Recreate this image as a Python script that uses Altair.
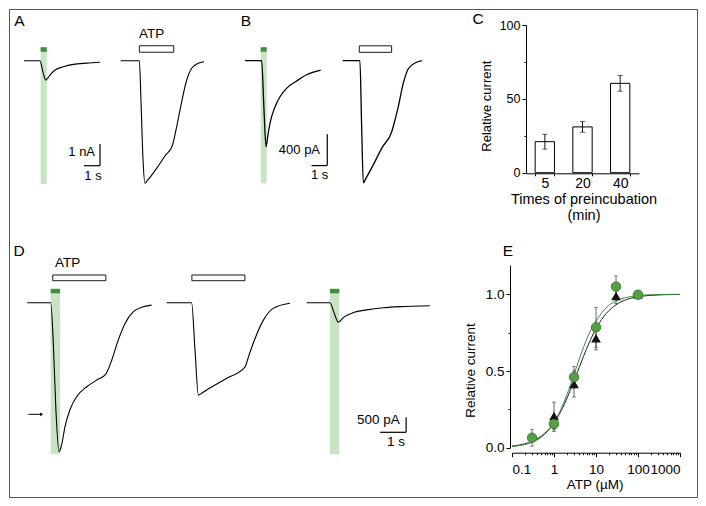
import altair as alt
import pandas as pd

FONT = "Liberation Sans"
PAD = 1
OFF = 8 + PAD            # page margin + chart padding
W, H = 690 - 2 * PAD, 490 - 2 * PAD

# ---------------- data ----------------
# Panel A: currents (nA) vs time (s)
A_T1 = [0.00, 1.00, 1.13, 1.25, 1.36, 1.44, 1.63, 1.94, 2.46, 3.08, 3.92, 4.75]
A_I1 = [0.00, 0.00, -0.34, -0.70, -0.89, -0.84, -0.66, -0.43, -0.28, -0.17, -0.11, -0.07]
A_T2 = [6.04, 7.21, 7.31, 7.44, 7.56, 7.69, 8.29, 8.81, 9.27, 9.50, 9.75, 10.17, 10.48, 10.89, 11.25]
A_I2 = [0.00, 0.00, -1.81, -4.58, -5.65, -5.54, -4.96, -4.39, -3.92, -3.19, -2.27, -0.89, -0.35, -0.12, -0.05]
A_LIGHT = [(1.04, 1.42)]
A_ATP = [(7.21, 9.36)]

# Panel B
B_T1 = [0.00, 1.06, 1.21, 1.34, 1.46, 1.59, 1.91, 2.23, 2.66, 3.29, 3.93, 4.82]
B_I1 = [0.00, 0.00, -0.63, -1.10, -0.95, -0.80, -0.59, -0.46, -0.35, -0.26, -0.18, -0.12]
B_T2 = [6.22, 7.32, 7.42, 7.54, 7.71, 8.17, 8.73, 9.34, 9.55, 9.76, 10.08, 10.41, 10.83, 11.26]
B_I2 = [0.00, 0.00, -0.76, -1.56, -1.50, -1.33, -1.11, -0.91, -0.76, -0.59, -0.29, -0.10, -0.03, 0.00]
B_LIGHT = [(1.00, 1.38)]
B_ATP = [(7.28, 9.34)]

# Panel C
C_CAT = ["5", "20", "40"]
C_MEAN = [21.0, 31.0, 60.5]
C_ERR = [5.0, 3.6, 5.3]

# Panel D
D_T1 = [0.00, 0.90, 1.00, 1.10, 1.22, 1.32, 1.45, 1.64, 1.90, 2.29, 2.67, 3.02, 3.25, 3.50, 3.76, 4.08, 4.40, 4.78]
D_I1 = [0.00, 0.00, -1.34, -3.57, -4.97, -4.74, -4.13, -3.57, -3.13, -2.80, -2.58, -2.38, -1.91, -1.24, -0.69, -0.30, -0.15, -0.08]
D_T2 = [5.36, 6.32, 6.45, 6.58, 6.72, 6.90, 7.67, 8.37, 8.53, 8.69, 9.08, 9.46, 10.10]
D_I2 = [0.00, 0.00, -1.58, -3.08, -3.01, -2.91, -2.52, -2.15, -1.74, -1.35, -0.58, -0.19, -0.02]
D_T3 = [10.75, 11.64, 11.80, 11.96, 12.16, 12.54, 13.06, 13.69, 14.33, 15.48]
D_I3 = [0.00, 0.00, -0.34, -0.65, -0.49, -0.33, -0.24, -0.17, -0.13, -0.10]
D_LIGHT = [(0.90, 1.26), (11.64, 12.00)]
D_ATP = [(0.98, 3.02), (6.33, 8.37)]

# Panel E: dose-response
E_GX = [0.3, 1, 3, 10, 30, 100]
E_GY = [0.065, 0.155, 0.46, 0.785, 1.05, 0.997]
E_GE = [0.055, 0.05, 0.07, 0.13, 0.07, 0.02]
E_BX = [1, 3, 10, 30, 100]
E_BY = [0.207, 0.415, 0.713, 0.989, 1.0]
E_BE = [0.09, 0.085, 0.076, 0.05, 0.02]
E_FX = [0.1, 0.2, 0.3, 0.5, 0.7, 1, 1.5, 2, 3, 4, 5, 7, 10, 15, 20, 30, 50, 100, 200, 500, 1000]
E_FG = [0.008, 0.020, 0.035, 0.069, 0.106, 0.164, 0.257, 0.341, 0.478, 0.578, 0.651, 0.750, 0.825,
        0.893, 0.927, 0.957, 0.978, 0.992, 0.997, 0.999, 1.0]
E_FB = [0.011, 0.025, 0.042, 0.076, 0.111, 0.163, 0.244, 0.317, 0.435, 0.524, 0.593, 0.689, 0.776,
        0.852, 0.892, 0.932, 0.963, 0.984, 0.993, 0.998, 0.999]
E_XTICKS = [0.1, 0.2, 0.3, 0.4, 0.5, 0.6, 0.7, 0.8, 0.9, 1, 2, 3, 4, 5, 6, 7, 8, 9,
            10, 20, 30, 40, 50, 60, 70, 80, 90, 100, 200, 300, 400, 500, 600, 700, 800, 900, 1000]

ONE = pd.DataFrame({"k": [0]})
LIGHT_GREEN = "#c8e4c3"
DARK_GREEN = "#3f8f3c"


def lscale(img0, ppu, lo, hi, vertical=False):
    if vertical:
        rng = [img0 - OFF - lo * ppu, img0 - OFF - hi * ppu]
    else:
        rng = [img0 - OFF + lo * ppu, img0 - OFF + hi * ppu]
    return alt.Scale(domain=[lo, hi], range=rng, nice=False, zero=False)


def trace_panel(traces, light, atp, sx, sy, light_y, dark_y, box_y, bar, texts, lw=1.1, extra=None):
    X = lambda f: alt.X(f, type="quantitative", scale=sx, axis=None)
    Y = lambda f: alt.Y(f, type="quantitative", scale=sy, axis=None)
    XD = lambda v: alt.XDatum(v, type="quantitative", scale=sx, axis=None)
    YD = lambda v: alt.YDatum(v, type="quantitative", scale=sy, axis=None)

    rows = []
    for k, (T, I) in enumerate(traces):
        rows += [{"t": t, "i": i, "trace": k} for t, i in zip(T, I)]
    ldf = pd.DataFrame({"s": [a for a, b in light], "e": [b for a, b in light]})
    adf = pd.DataFrame({"s": [a for a, b in atp], "e": [b for a, b in atp]})

    layers = [
        alt.Chart(ldf).mark_rect(color=LIGHT_GREEN).encode(
            x=X("s"), x2=alt.X2("e"), y=YD(light_y[0]), y2=alt.Y2Datum(light_y[1])),
        alt.Chart(ldf).mark_rect(color=DARK_GREEN).encode(
            x=X("s"), x2=alt.X2("e"), y=YD(dark_y[0]), y2=alt.Y2Datum(dark_y[1])),
        alt.Chart(pd.DataFrame(rows)).mark_line(color="black", strokeWidth=lw, interpolate="monotone").encode(
            x=X("t"), y=Y("i"), detail="trace:N"),
        alt.Chart(adf).mark_rect(fill="white", stroke="black", strokeWidth=0.9).encode(
            x=X("s"), x2=alt.X2("e"), y=YD(box_y[0]), y2=alt.Y2Datum(box_y[1])),
    ]
    ct, ci, dt, di = bar
    layers += [
        alt.Chart(ONE).mark_rule(color="black", strokeWidth=1.2).encode(
            x=XD(ct), y=YD(ci), y2=alt.Y2Datum(ci + di)),
        alt.Chart(ONE).mark_rule(color="black", strokeWidth=1.2).encode(
            x=XD(ct - dt), x2=alt.X2Datum(ct), y=YD(ci)),
    ]
    for txt, t, i, size, align in texts:
        layers.append(alt.Chart(ONE).mark_text(text=txt, fontSize=size, align=align, baseline="middle",
                                               font=FONT, color="black").encode(x=XD(t), y=YD(i)))
    if extra:
        layers += extra(XD, YD)
    return alt.layer(*layers)


# ---------------- panel A ----------------
sxA = lscale(24, 16, -0.5, 12)
syA = lscale(60.7, 21.7, -6.5, 2.5, vertical=True)
pA = trace_panel([(A_T1, A_I1), (A_T2, A_I2)], A_LIGHT, A_ATP, sxA, syA,
                 (0.62, -5.68), (0.62, 0.41), (0.69, 0.39), (4.75, -4.84, 1, 1),
                 [("A", -0.28, 1.83, 15.5, "center"), ("ATP", 7.19, 1.21, 13.5, "left"),
                  ("1 nA", 4.44, -4.19, 13, "right"), ("1 s", 4.31, -5.31, 13, "center")])

# ---------------- panel B ----------------
sxB = lscale(245, 15.7, -0.5, 15.5)
syB = lscale(60.7, 78.3, -1.7, 0.6, vertical=True)
pB = trace_panel([(B_T1, B_I1), (B_T2, B_I2)], B_LIGHT, B_ATP, sxB, syB,
                 (0.171, -1.566), (0.171, 0.115), (0.19, 0.107), (5.24, -1.34, 1, 0.4),
                 [("B", 0.06, 0.51, 15.5, "center"), ("C", 14.84, 0.53, 15.5, "center"),
                  ("400 pA", 4.78, -1.14, 13, "right"), ("1 s", 4.75, -1.46, 13, "center")],
                 lw=1.3)

# ---------------- panel C ----------------
cdf = pd.DataFrame({"cat": C_CAT, "mean": C_MEAN,
                    "lo": [m - e for m, e in zip(C_MEAN, C_ERR)],
                    "hi": [m + e for m, e in zip(C_MEAN, C_ERR)]})
sxC = alt.Scale(domain=C_CAT, range=[526 - OFF, 639 - OFF], paddingInner=0.487, paddingOuter=0.2435)
syC = alt.Scale(domain=[0, 100], range=[172.7 - OFF, 25 - OFF], nice=False)
xAxC = alt.Axis(orient="bottom", offset=(173.3 - OFF) - H, tickBand="extent", tickSize=2.5,
                labelAngle=0, labelFontSize=14, labelPadding=0.5,
                title=["Times of preincubation", "(min)"], titleFontSize=14.5,
                titleX=583.5 - OFF, titleY=19.5, titleBaseline="top", titleAlign="center",
                titleLineHeight=15.5)
yAxC = alt.Axis(orient="left", offset=-(526 - OFF), values=[0, 25, 50, 75, 100],
                labelExpr="datum.value == 25 || datum.value == 75 ? '' : datum.label",
                tickSize={"condition": {"test": "datum.value == 25 || datum.value == 75", "value": 2}, "value": 4},
                labelFontSize=12.5, labelPadding=2, title="Relative current", titleFontSize=13,
                titleX=486.7 - 526, titleY=105.7 - OFF, titleAngle=270, titleAlign="center",
                titleBaseline="middle")
XC = alt.X("cat:N", sort=C_CAT, scale=sxC, axis=xAxC)
pC = alt.layer(
    alt.Chart(cdf).mark_bar(fill="white", stroke="black", strokeWidth=1).encode(
        x=XC, y=alt.Y("mean:Q", scale=syC, axis=yAxC), y2=alt.Y2Datum(0)),
    alt.Chart(cdf).mark_rule(color="black", strokeWidth=0.9).encode(
        x=XC, y=alt.Y("lo:Q", scale=syC, axis=yAxC), y2=alt.Y2("hi")),
    alt.Chart(cdf).mark_tick(orient="horizontal", size=5, thickness=0.9, color="black").encode(
        x=XC, y=alt.Y("lo:Q", scale=syC, axis=yAxC)),
    alt.Chart(cdf).mark_tick(orient="horizontal", size=5, thickness=0.9, color="black").encode(
        x=XC, y=alt.Y("hi:Q", scale=syC, axis=yAxC)),
)

# ---------------- panel D ----------------
sxD = lscale(27.3, 26, -0.5, 19)
syD = lscale(302.7, 30, -5.3, 1.5, vertical=True)


def arrow(XD, YD):
    return [
        alt.Chart(ONE).mark_rule(color="black", strokeWidth=1).encode(
            x=XD(0.04), x2=alt.X2Datum(0.52), y=YD(-3.72)),
        alt.Chart(ONE).mark_point(shape="triangle-right", filled=True, size=14, color="black", opacity=1).encode(
            x=XD(0.55), y=YD(-3.72)),
    ]


pD = trace_panel([(D_T1, D_I1), (D_T2, D_I2), (D_T3, D_I3)], D_LIGHT, D_ATP, sxD, syD,
                 (0.48, -5.05), (0.457, 0.313), (0.923, 0.733), (14.57, -4.32, 1, 0.5),
                 [("D", -0.32, 1.72, 15.5, "center"), ("E", 18.49, 1.72, 15.5, "center"),
                  ("ATP", 1.07, 1.31, 13.5, "left"),
                  ("500 pA", 14.33, -3.91, 13.5, "right"), ("1 s", 14.18, -4.63, 13.5, "center")],
                 extra=arrow)

# ---------------- panel E ----------------
sxE = alt.Scale(type="log", domain=[0.1, 1000], range=[512 - OFF, 680 - OFF])
syE = alt.Scale(domain=[0, 1.19], range=[447.7 - OFF, 447.7 - OFF - 1.19 * 153.4], nice=False, zero=False)
DEC = "indexof([0.1, 1, 10, 100, 1000], datum.value) >= 0"
xAxE = alt.Axis(orient="bottom", offset=(452.7 - OFF) - H, values=E_XTICKS,
                labelExpr=f"{DEC} ? format(datum.value, '.1~f') : ''",
                tickSize={"condition": {"test": DEC, "value": 4}, "value": 2},
                labelFontSize=13.5, labelPadding=5.5, title="ATP (µM)", titleFontSize=13.5,
                titleX=594.7 - OFF, titleY=31.6, titleBaseline="middle", titleAlign="center")
yAxE = alt.Axis(orient="left", offset=-(510 - OFF), values=[0, 0.25, 0.5, 0.75, 1.0], format=".1f",
                labelExpr="datum.value == 0.25 || datum.value == 0.75 ? '' : datum.label",
                tickSize={"condition": {"test": "datum.value == 0.25 || datum.value == 0.75", "value": 2}, "value": 4},
                labelFontSize=13.5, labelPadding=2, title="Relative current", titleFontSize=13.5,
                titleX=470 - 510, titleY=370 - OFF, titleAngle=270, titleAlign="center",
                titleBaseline="middle")
XE = lambda f: alt.X(f, type="quantitative", scale=sxE, axis=xAxE)
YE = lambda f: alt.Y(f, type="quantitative", scale=syE, axis=yAxE)

fit = pd.DataFrame({"x": E_FX * 2, "y": E_FB + E_FG, "s": ["b"] * len(E_FX) + ["g"] * len(E_FX)})
gdf = pd.DataFrame({"x": E_GX, "y": E_GY, "lo": [y - e for y, e in zip(E_GY, E_GE)],
                    "hi": [y + e for y, e in zip(E_GY, E_GE)]})
bdf = pd.DataFrame({"x": E_BX, "y": E_BY, "lo": [y - e for y, e in zip(E_BY, E_BE)],
                    "hi": [y + e for y, e in zip(E_BY, E_BE)]})


def errbars(df, color):
    return [
        alt.Chart(df).mark_rule(color=color, strokeWidth=0.8).encode(x=XE("x"), y=YE("lo"), y2=alt.Y2("hi")),
        alt.Chart(df).mark_tick(orient="horizontal", size=4, thickness=0.8, color=color).encode(x=XE("x"), y=YE("lo")),
        alt.Chart(df).mark_tick(orient="horizontal", size=4, thickness=0.8, color=color).encode(x=XE("x"), y=YE("hi")),
    ]


pE = alt.layer(
    alt.Chart(fit).transform_filter("datum.s == 'b'").mark_line(color="#222222", strokeWidth=1, interpolate="monotone").encode(
        x=XE("x"), y=YE("y")),
    alt.Chart(fit).transform_filter("datum.s == 'g'").mark_line(color="#3a8a35", strokeWidth=1, interpolate="monotone").encode(
        x=XE("x"), y=YE("y")),
    *errbars(bdf, "#333333"),
    *errbars(gdf, "#444444"),
    alt.Chart(bdf).mark_point(shape="triangle-up", filled=True, size=95, color="#111111", opacity=1).encode(
        x=XE("x"), y=YE("y")),
    alt.Chart(gdf).mark_point(shape="circle", filled=True, size=90, fill="#55a044", stroke="#2e6e27",
                              strokeWidth=0.8, opacity=1).encode(x=XE("x"), y=YE("y")),
)

chart = alt.layer(pA, pB, pC, pD, pE).resolve_scale(x="independent", y="independent").properties(
    width=W, height=H, padding=PAD, autosize=alt.AutoSizeParams(type="none")
).configure_view(stroke="#555555", strokeWidth=1).configure_axis(
    domainColor="black", tickColor="black", labelColor="black", titleColor="black",
    labelFont=FONT, titleFont=FONT, titleFontWeight="normal", grid=False, domainWidth=1, tickWidth=1
).configure_text(font=FONT)

chart.save("out.html", embed_options={"renderer": "svg", "actions": False})
